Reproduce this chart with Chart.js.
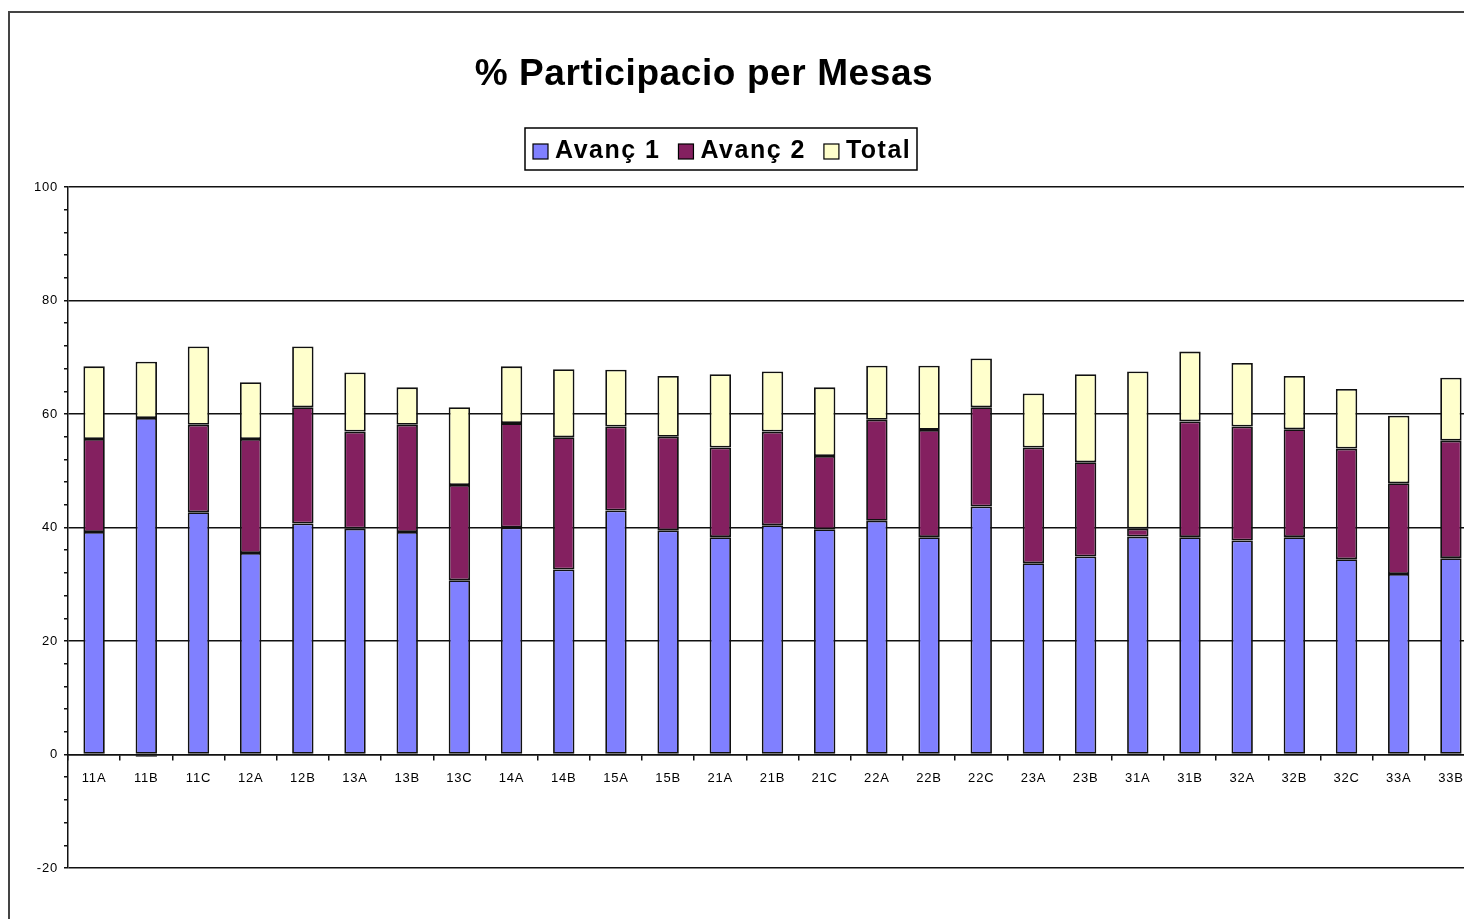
<!DOCTYPE html>
<html>
<head>
<meta charset="utf-8">
<title>% Participacio per Mesas</title>
<script src="https://cdn.jsdelivr.net/npm/chart.js@4.4.1/dist/chart.umd.min.js"></script>
<style>
  html, body { margin: 0; padding: 0; background: #fff; overflow: hidden; }
  #frame {
    position: absolute; left: 8px; top: 11px; right: -10px; bottom: -10px;
    border-top: 2px solid #444; border-left: 2px solid #444;
  }
  #wrap { position: absolute; left: 0; top: 0; width: 1500px; height: 919px; }
</style>
</head>
<body>
<div id="frame"></div>
<div id="wrap"><canvas id="chart"></canvas></div>
<script>
// mesas (tables), as shown on the x axis
const mesas = ["11A", "11B", "11C", "12A", "12B", "13A", "13B", "13C", "14A", "14B",
               "15A", "15B", "21A", "21B", "21C", "22A", "22B", "22C", "23A", "23B",
               "31A", "31B", "32A", "32B", "32C", "33A", "33B"];

// stacked segments (percent)
const avanc1 = [39.2, 59.3, 42.7, 35.5, 40.7, 39.8, 39.2, 30.7, 40.0, 32.6,
                43.0, 39.5, 38.3, 40.4, 39.7, 41.2, 38.3, 43.7, 33.7, 34.9,
                38.4, 38.3, 37.7, 38.3, 34.4, 31.8, 34.6];
const avanc2 = [16.4, -0.4, 15.4, 20.1, 20.5, 17.1, 18.9, 16.8, 18.4, 23.3,
                14.8, 16.5, 15.8, 16.5, 12.9, 17.8, 18.9, 17.5, 20.4, 16.6,
                 1.4, 20.4, 20.1, 19.0, 19.5, 16.0, 20.7];
const total  = [12.8,  9.9, 13.8, 10.0, 10.7, 10.4,  6.6, 13.7, 10.0, 12.0,
                10.0, 10.7, 12.9, 10.6, 12.1,  9.5, 11.3,  8.6,  9.5, 15.5,
                27.7, 12.3, 11.2,  9.4, 10.5, 11.9, 11.1];

const yMin = -20, yMax = 100, yStep = 4, yLabelStep = 20;

const FONT = '"Liberation Sans", Arial, sans-serif';

// the old spreadsheet spaced its small labels a little
const tickSpacing = {
  id: 'tickSpacing',
  beforeDraw(chart) { chart.ctx.letterSpacing = '0.8px'; },
  afterDraw(chart) { chart.ctx.letterSpacing = '0px'; }
};

// title + legend drawn the way the old spreadsheet laid them out
const excelHeader = {
  id: 'excelHeader',
  afterDraw(chart) {
    const ctx = chart.ctx;
    ctx.save();
    ctx.fillStyle = '#000';
    ctx.font = 'bold 37px ' + FONT;
    ctx.letterSpacing = '0.6px';
    ctx.textAlign = 'center';
    ctx.textBaseline = 'alphabetic';
    ctx.fillText('% Participacio per Mesas', 704, 85);

    // legend box
    ctx.lineWidth = 1.5;
    ctx.strokeStyle = '#000';
    ctx.fillStyle = '#fff';
    ctx.fillRect(525, 128, 392, 42);
    ctx.strokeRect(525, 128, 392, 42);

    ctx.font = 'bold 25px ' + FONT;
    ctx.letterSpacing = '1.5px';
    ctx.textAlign = 'left';
    let x = 533;
    chart.data.datasets.forEach(ds => {
      ctx.fillStyle = ds.backgroundColor;
      ctx.fillRect(x, 144, 15, 15);
      ctx.lineWidth = 1.2;
      ctx.strokeStyle = '#000';
      ctx.strokeRect(x, 144, 15, 15);
      ctx.fillStyle = '#000';
      ctx.fillText(ds.label, x + 22, 158);
      x += 22 + ctx.measureText(ds.label).width + 18;
    });
    ctx.restore();
  }
};

const barStyle = { borderColor: '#111', borderWidth: 1.8, borderSkipped: false,
                   barPercentage: 0.41, categoryPercentage: 1.0 };

new Chart(document.getElementById('chart'), {
  type: 'bar',
  data: {
    labels: mesas,
    datasets: [
      { label: 'Avanç 1', data: avanc1, backgroundColor: '#8080FF', ...barStyle },
      { label: 'Avanç 2', data: avanc2, backgroundColor: '#842060', ...barStyle },
      { label: 'Total',   data: total,  backgroundColor: '#FFFFCC', ...barStyle }
    ]
  },
  options: {
    responsive: true,
    maintainAspectRatio: false,
    animation: false,
    layout: { padding: { left: 0, top: 187, right: 23, bottom: 51 } },
    plugins: {
      legend: { display: false },
      title: { display: false },
      tooltip: { enabled: false }
    },
    scales: {
      x: {
        stacked: true,
        position: { y: 0 },
        offset: true,
        grid: { display: true, drawOnChartArea: false, offset: true,
                tickLength: 5, color: '#111', tickColor: '#111', lineWidth: 1.5 },
        border: { display: true, color: '#111', width: 1.5 },
        ticks: { color: '#000', font: { family: FONT, size: 13 }, padding: 11,
                 autoSkip: false, maxRotation: 0 }
      },
      y: {
        stacked: true,
        min: yMin,
        max: yMax,
        afterFit: s => { s.width = 68; },
        ticks: {
          stepSize: yStep,
          autoSkip: false,
          color: '#000',
          padding: 6,
          font: { family: FONT, size: 13 },
          callback: v => (v % yLabelStep === 0 ? v : '')
        },
        grid: {
          color: c => (c.tick && c.tick.value % yLabelStep === 0 ? '#111' : 'rgba(0,0,0,0)'),
          lineWidth: 1.5,
          tickColor: '#111',
          tickLength: 4
        },
        border: { display: true, color: '#111', width: 1.5 }
      }
    }
  },
  plugins: [tickSpacing, excelHeader]
});
</script>
</body>
</html>
